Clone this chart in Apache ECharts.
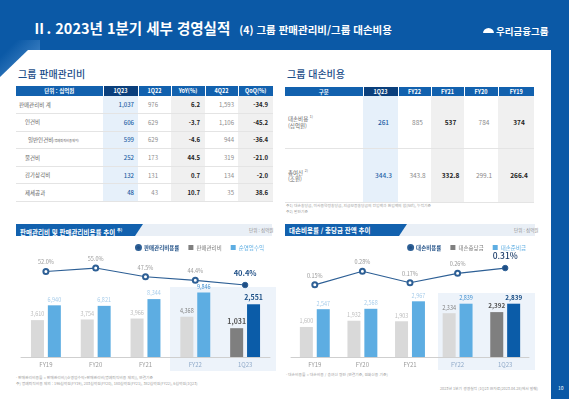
<!DOCTYPE html>
<html lang="ko">
<head>
<meta charset="utf-8">
<script src="https://cdn.jsdelivr.net/npm/echarts@6/dist/echarts.min.js"></script>
<style>
* { margin: 0; padding: 0; box-sizing: border-box; }
html, body { width: 569px; height: 399px; overflow: hidden; }
body { position: relative; background: #0b59a6; font-family: "Noto Sans CJK KR", "Noto Sans", sans-serif; }
.abs { position: absolute; white-space: nowrap; }
.title { left: 32px; top: 18px; line-height: 20px; color: #fff; font-size: 14.5px; font-weight: 700; }
.title span { font-size: 10.5px; margin-left: 9px; }
.logo { left: 483px; top: 24px; color: #fff; font-size: 9.5px; font-weight: 700; line-height: 14px; }
.logo i { display: inline-block; width: 11px; height: 6px; border-radius: 6px 6px 0 0; background: #fff; margin-right: 2px; vertical-align: 1px; border-bottom: 1.5px solid #0b59a6; }
.corner { left: 0; top: 40px; width: 40px; height: 45px; background: linear-gradient(135deg, #0b59a6 20%, #3f82c4 70%); }
.panel { left: 0; top: 50px; width: 551px; height: 349px; background: #fff; clip-path: polygon(28px 0, 100% 0, 100% 100%, 0 100%, 0 27px); }
.pageno { left: 558px; top: 384px; color: #fff; font-size: 5px; }
.sec { color: #1d4e89; font-size: 10px; font-weight: 500; line-height: 14px; top: 67px; }
table { position: absolute; border-collapse: collapse; table-layout: fixed; }
th { background: #1261ae; color: #fff; font-size: 5.5px; font-weight: 700; border-right: 1px solid #fff; padding: 0; }
th:last-child { border-right: none; }
th.cur { background: #0a3f7c; }
td { border-bottom: 1px solid #e4e4e4; padding: 0; white-space: nowrap; }
td.lbl { color: #666; font-size: 5.5px; text-align: left; }
td.lbl small { font-size: 3.2px; }
.t1 td.v { font-size: 6px; text-align: right; }
.t2 td.v { font-size: 6.5px; text-align: center; padding-left: 6px; }
td.cur { background: #e6f0fa; color: #1f5fa5; font-weight: 500; }
td.gry { color: #8c8c8c; }
td.bold { background: #f0f0f0; color: #222; font-weight: 700; }
.note { color: #a0a0a0; font-size: 3.8px; line-height: 6px; }
.cband { height: 12px; background: #e9eff6; top: 224px; }
.cbar { height: 12px; background: #1261ae; top: 224px; color: #fff; font-size: 6.5px; font-weight: 700; line-height: 12px; padding-left: 4px; clip-path: polygon(0 0, 100% 0, calc(100% - 8px) 100%, 0 100%); }
.unit { top: 227px; color: #8a8a8a; font-size: 4.5px; line-height: 6px; }
.hl { background: #edf3fa; }
#chart { position: absolute; left: 0; top: 0; width: 569px; height: 399px; z-index: 5; }
</style>
</head>
<body>
<div class="abs corner"></div>
<div class="abs panel"></div>
<div class="abs title">Ⅱ. 2023년 1분기 세부 경영실적<span>(4) 그룹 판매관리비/그룹 대손비용</span></div>
<div class="abs logo"><i></i>우리금융그룹</div>
<div class="abs pageno">10</div>

<div class="abs sec" style="left:18px">그룹 판매관리비</div>
<table class="t1" id="sgaTable" style="left:16px; top:86px; width:257px"></table>

<div class="abs sec" style="left:287px">그룹 대손비용</div>
<table class="t2" id="lossTable" style="left:285px; top:87px; width:249px"></table>
<div class="abs note" style="left:286px; top:203px">주1) 대손충당금, 미사용약정충당금, 지급보증충당금의 전입액과 환입액의 합(Net), 누적기준<br>주2) 말잔기준</div>

<div class="abs cband" style="left:16px; width:256px"></div>
<div class="abs cbar" style="left:16px; width:127px">판매관리비 및 판매관리비용률 추이 <sup style="font-size:4px">주)</sup></div>
<div class="abs unit" style="left:249px">단위 : 십억원</div>
<div class="abs hl" style="left:170px; top:287px; width:106px; height:84px"></div>
<div class="abs note" style="left:16px; top:375px">· 판매관리비용률 = 판매관리비/(순영업수익+판매관리비(명예퇴직비용 제외)), 연결기준<br>주) 명예퇴직비용 제외 : 196십억원(FY19), 203십억원(FY20), 180십억원(FY21), 382십억원(FY22), 6십억원(1Q23)</div>

<div class="abs cband" style="left:285px; width:250px"></div>
<div class="abs cbar" style="left:285px; width:122px">대손비용률 / 충당금 잔액 추이</div>
<div class="abs unit" style="left:514px">단위 : 십억원</div>
<div class="abs hl" style="left:438px; top:293px; width:97px; height:77px"></div>
<div class="abs note" style="left:286px; top:372px">· 대손비용률 = 대손비용 / 총여신 평잔 (연결기준, 원화신용 기준)</div>
<div class="abs note" style="left:440px; top:386px">2023년 1분기 경영실적 (1Q23 IR자료(2023.04.28)에서 발췌)</div>

<div id="chart"></div>

<script>
// region 표 데이터
const sgaHead = ['단위 : 십억원', '1Q23', '1Q22', 'YoY(%)', '4Q22', 'QoQ(%)']
const sgaItems = ['판매관리비 계', '인건비', '일반인건비', '물건비', '감가상각비', '제세공과']
const sga1Q23 = [1037, 606, 599, 252, 132, 48]
const sga1Q22 = [976, 629, 629, 173, 131, 43]
const sgaYoY = [6.2, -3.7, -4.6, 44.5, 0.7, 10.7]
const sga4Q22 = [1593, 1106, 944, 319, 134, 35]
const sgaQoQ = [-34.9, -45.2, -36.4, -21.0, -2.0, 38.6]

const lossHead = ['구분', '1Q23', 'FY22', 'FY21', 'FY20', 'FY19']
const lossCost = [261, 885, 537, 784, 374]
const totalLoans = [344.3, 343.8, 332.8, 299.1, 266.4]
// endregion

// region 차트 데이터
const categories = ['FY19', 'FY20', 'FY21', 'FY22', '1Q23']
const sgaCost = [3610, 3754, 3966, 4368, 1031]
const netOpRevenue = [6940, 6821, 8344, 9846, 2551]
const sgaRatio = [52.0, 55.0, 47.5, 44.4, 40.4]
const provisions = [1600, 1932, 1903, 2334, 2392]
const reserves = [2547, 2568, 2967, 2839, 2839]
const creditCostRatio = [0.15, 0.28, 0.17, 0.26, 0.31]
// endregion

const fmt = (v) => v.toLocaleString('en-US')

// region 표 그리기
const sgaWidths = [87, 35, 33, 34, 33, 35]
const sgaIndent = [3, 9, 12, 9, 9, 9]
let html = '<colgroup>' + sgaWidths.map((w) => `<col style="width:${w}px">`).join('') + '</colgroup>'
html += '<tr style="height:10px">' + sgaHead.map((h, i) => `<th class="${i === 1 ? 'cur' : ''}">${h}</th>`).join('') + '</tr>'
for (let i = 0; i < sgaItems.length; i++) {
  const name = i === 2 ? sgaItems[i] + '<small>(명예퇴직비용제외)</small>' : sgaItems[i]
  html += '<tr style="height:17.6px">'
  html += `<td class="lbl" style="padding-left:${sgaIndent[i]}px">${name}</td>`
  html += `<td class="v cur" style="padding-right:4px">${fmt(sga1Q23[i])}</td>`
  html += `<td class="v gry" style="padding-right:13px">${fmt(sga1Q22[i])}</td>`
  html += `<td class="v bold" style="padding-right:5px">${sgaYoY[i].toFixed(1)}</td>`
  html += `<td class="v gry" style="padding-right:4px">${fmt(sga4Q22[i])}</td>`
  html += `<td class="v bold" style="padding-right:5px">${sgaQoQ[i].toFixed(1)}</td>`
  html += '</tr>'
}
document.getElementById('sgaTable').innerHTML = html

const lossWidths = [78, 35, 33, 33, 34, 36]
const lossCls = ['cur', 'gry', 'bold', 'gry', 'bold']
html = '<colgroup>' + lossWidths.map((w) => `<col style="width:${w}px">`).join('') + '</colgroup>'
html += '<tr style="height:9px">' + lossHead.map((h, i) => `<th class="${i === 1 ? 'cur' : ''}">${h}</th>`).join('') + '</tr>'
html += '<tr style="height:52px"><td class="lbl" style="padding-left:3px;line-height:7px">대손비용 <sup style="font-size:3.5px">1)</sup><br>(십억원)</td>'
html += lossCost.map((v, i) => `<td class="v ${lossCls[i]}">${fmt(v)}</td>`).join('') + '</tr>'
html += '<tr style="height:54px"><td class="lbl" style="padding-left:3px;line-height:7px">총여신 <sup style="font-size:3.5px">2)</sup><br>(조원)</td>'
html += totalLoans.map((v, i) => `<td class="v ${lossCls[i]}">${v.toFixed(1)}</td>`).join('') + '</tr>'
document.getElementById('lossTable').innerHTML = html
// endregion

// region 차트
const FONT = '"Noto Sans CJK KR", "Noto Sans", sans-serif'
const GREY = '#d9d9d9'
const BLUE = '#5dade2'
const DGREY = '#7f7f7f'
const DBLUE = '#0b5ca8'
const LINE = '#2d5f95'

const catAxis = (gridIndex) => ({
  type: 'category',
  gridIndex,
  data: categories,
  axisLine: { onZero: false, lineStyle: { color: '#cfcfcf', width: 1 } },
  axisTick: { show: false },
  axisLabel: {
    fontSize: 6,
    margin: 5,
    color: (v, i) => (i >= 3 ? '#8fa9c8' : '#9a9a9a'),
  },
})
const hiddenCat = (gridIndex) => ({ type: 'category', gridIndex, data: categories, show: false })
const hiddenVal = (gridIndex, min, max) => ({
  type: 'value',
  gridIndex,
  min,
  max,
  startValue: min,
  show: false,
  splitLine: { show: false },
})

// 연간 막대 (FY19~FY22)
const annualBar = (values, color, labelColors) =>
  values.map((v, i) =>
    i < 4 ? { value: v, itemStyle: { color }, label: { color: labelColors[i === 3 ? 1 : 0] } } : '-',
  )
// 분기 막대 (1Q23)
const quarterBar = (values, color, labelColor) =>
  values.map((v, i) =>
    i === 4 ? { value: v, itemStyle: { color }, label: { color: labelColor, fontSize: 7, fontWeight: 'bold' } } : '-',
  )
const ratioLine = (values, digits, lastLabel) =>
  values.map((v, i) =>
    i === values.length - 1
      ? { value: v, symbol: 'circle', symbolSize: 5.5, itemStyle: { color: '#1f4f86' }, label: lastLabel }
      : v,
  )

const barLabel = {
  show: true,
  position: 'top',
  distance: 3,
  fontSize: 5.5,
  formatter: (p) => fmt(p.value),
}
const barCommon = { type: 'bar', barWidth: 13, barGap: '30%', label: barLabel }
const lineCommon = (digits) => ({
  type: 'line',
  symbol: 'emptyCircle',
  symbolSize: 5,
  lineStyle: { color: LINE, width: 1.2 },
  itemStyle: { color: LINE, borderColor: LINE, borderWidth: 1 },
  label: {
    show: true,
    position: 'top',
    distance: 3,
    fontSize: 5.5,
    color: '#9a9a9a',
    formatter: (p) => p.value.toFixed(digits) + '%',
  },
  z: 5,
})

const chart = echarts.init(document.getElementById('chart'))
chart.setOption({
  animation: false,
  textStyle: { fontFamily: FONT },
  legend: [
    {
      right: 300,
      top: 239,
      itemWidth: 5,
      itemHeight: 5,
      itemGap: 9,
      textStyle: { fontSize: 5.5, color: '#7a7a7a', padding: [0, 0, 0, -2] },
      data: [
        { name: '판매관리비용률', icon: 'circle', itemStyle: { color: '#1f4f86' }, textStyle: { color: '#1f4f86', fontWeight: 'bold' } },
        { name: '판매관리비', icon: 'rect', itemStyle: { color: DGREY } },
        { name: '순영업수익', icon: 'rect', itemStyle: { color: BLUE }, textStyle: { color: BLUE } },
      ],
    },
    {
      right: 38,
      top: 239,
      itemWidth: 5,
      itemHeight: 5,
      itemGap: 9,
      textStyle: { fontSize: 5.5, color: '#7a7a7a', padding: [0, 0, 0, -2] },
      data: [
        { name: '대손비용률', icon: 'circle', itemStyle: { color: '#1f4f86' }, textStyle: { color: '#1f4f86', fontWeight: 'bold' } },
        { name: '대손충당금', icon: 'rect', itemStyle: { color: DGREY } },
        { name: '대손준비금', icon: 'rect', itemStyle: { color: BLUE }, textStyle: { color: BLUE } },
      ],
    },
  ],
  grid: [
    { left: 21, top: 250, width: 249, height: 107 },
    { left: 291, top: 250, width: 238, height: 107 },
  ],
  xAxis: [catAxis(0), hiddenCat(0), catAxis(1)],
  yAxis: [
    hiddenVal(0, -4700, 19400), // 연간 판매관리비/순영업수익
    hiddenVal(0, -800, 6000), // 분기 판매관리비/순영업수익
    hiddenVal(0, -21.5, 70.5), // 판매관리비용률
    hiddenVal(1, 0, 5700), // 대손충당금/준비금
    hiddenVal(1, -0.537, 0.482), // 대손비용률
  ],
  series: [
    { ...barCommon, name: '판매관리비', xAxisIndex: 0, yAxisIndex: 0, data: annualBar(sgaCost, GREY, ['#bdbdbd', '#808080']) },
    { ...barCommon, name: '순영업수익', xAxisIndex: 0, yAxisIndex: 0, data: annualBar(netOpRevenue, BLUE, ['#a8cdea', '#3f8fd0']) },
    { ...barCommon, name: '판매관리비', xAxisIndex: 1, yAxisIndex: 1, data: quarterBar(sgaCost, DGREY, '#555555') },
    { ...barCommon, name: '순영업수익', xAxisIndex: 1, yAxisIndex: 1, data: quarterBar(netOpRevenue, DBLUE, '#1b4f86') },
    {
      ...lineCommon(1),
      name: '판매관리비용률',
      xAxisIndex: 0,
      yAxisIndex: 2,
      data: ratioLine(sgaRatio, 1, { fontSize: 7.5, fontWeight: 'bold', color: '#1f4f86', distance: 5 }),
    },
    {
      ...barCommon,
      name: '대손충당금',
      xAxisIndex: 2,
      yAxisIndex: 3,
      data: provisions.map((v, i) =>
        i < 4
          ? { value: v, itemStyle: { color: GREY }, label: { color: i === 3 ? '#808080' : '#bdbdbd' } }
          : { value: v, itemStyle: { color: DGREY }, label: { color: '#555555', fontSize: 6.3, fontWeight: 'bold' } },
      ),
    },
    {
      ...barCommon,
      name: '대손준비금',
      xAxisIndex: 2,
      yAxisIndex: 3,
      data: reserves.map((v, i) =>
        i < 4
          ? { value: v, itemStyle: { color: BLUE }, label: { color: i === 3 ? '#3f8fd0' : '#a8cdea' } }
          : { value: v, itemStyle: { color: DBLUE }, label: { color: '#1b4f86', fontSize: 6.3, fontWeight: 'bold' } },
      ),
    },
    {
      ...lineCommon(2),
      name: '대손비용률',
      xAxisIndex: 2,
      yAxisIndex: 4,
      data: ratioLine(creditCostRatio, 2, { fontSize: 8.5, fontWeight: 500, color: '#1d3e6b', distance: 5 }),
    },
  ],
})
// endregion
</script>
</body>
</html>
